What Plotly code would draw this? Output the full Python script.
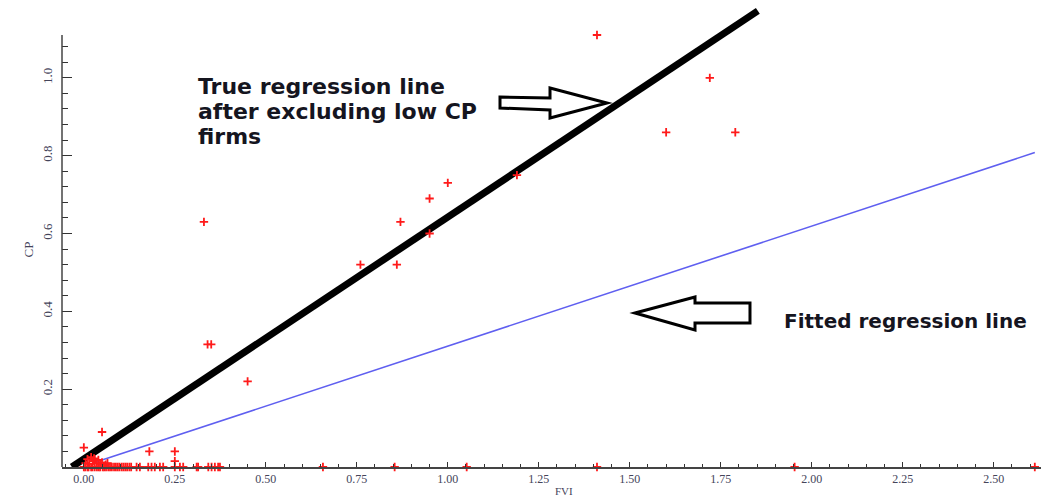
import plotly.graph_objects as go

# ---------------- data ----------------
fvi_pts = [1.41, 1.72, 1.60, 1.79, 1.19, 1.00, 0.95, 0.87, 0.95, 0.33, 0.76, 0.86,
           0.34, 0.35, 0.45, 0.05, 0.00, 0.18, 0.25, 0.25,
           0.005, 0.01, 0.015, 0.02, 0.025, 0.03, 0.035, 0.04, 0.045, 0.05, 0.06, 0.065, 0.028]
cp_pts = [1.11, 1.00, 0.86, 0.86, 0.75, 0.73, 0.69, 0.63, 0.60, 0.63, 0.52, 0.52,
          0.315, 0.315, 0.22, 0.09, 0.05, 0.04, 0.04, 0.015,
          0.010, 0.020, 0.008, 0.025, 0.015, 0.020, 0.010, 0.018, 0.008, 0.012, 0.006, 0.010, 0.022]

fvi_zero = [0.0, 0.004, 0.01, 0.013, 0.02, 0.024, 0.03, 0.036, 0.041, 0.045, 0.052, 0.056,
            0.061, 0.067, 0.072, 0.077, 0.083, 0.088, 0.093, 0.098, 0.104, 0.109, 0.114,
            0.119, 0.125, 0.13, 0.145, 0.154, 0.177, 0.186, 0.195, 0.209, 0.218, 0.25,
            0.264, 0.273, 0.31, 0.314, 0.342, 0.351, 0.36, 0.369, 0.374, 0.657, 0.854,
            1.052, 1.41, 1.953, 2.613]
cp_zero = [0.0] * len(fvi_zero)

true_line_fvi = [-0.033, 1.852]
true_line_cp = [0.0, 1.172]
fitted_line_fvi = [0.025, 2.613]
fitted_line_cp = [0.010, 0.808]

x_major = [0, 0.25, 0.5, 0.75, 1.0, 1.25, 1.5, 1.75, 2.0, 2.25, 2.5]
x_labels = ["0.00", "0.25", "0.50", "0.75", "1.00", "1.25", "1.50", "1.75", "2.00", "2.25", "2.50"]
y_major = [0.2, 0.4, 0.6, 0.8, 1.0]
y_labels = ["0.2", "0.4", "0.6", "0.8", "1.0"]

true_label = ["True regression line", "after excluding low CP", "firms"]
fitted_label = "Fitted regression line"
x_title = "FVI"
y_title = "CP"

# ---------------- layout geometry ----------------
W, H = 1046, 499
ML, MR, MT, MB = 62, 5, 0, 32
XR = [-0.06, 2.63]
YR = [0.0, 1.2]


def px2d(px, py):
    x = XR[0] + (px - ML) / (W - ML - MR) * (XR[1] - XR[0])
    y = YR[0] + (H - MB - py) / (H - MT - MB) * (YR[1] - YR[0])
    return x, y


def px2paper(px, py):
    return (px - ML) / (W - ML - MR), (H - MB - py) / (H - MT - MB)


def path_from_px(pts):
    d = []
    for i, (px, py) in enumerate(pts):
        x, y = px2d(px, py)
        d.append(("M" if i == 0 else "L") + f"{x:.4f},{y:.4f}")
    return " ".join(d) + " Z"


fig = go.Figure()

fig.add_trace(go.Scatter(x=fitted_line_fvi, y=fitted_line_cp, mode="lines",
                         line=dict(color="rgb(95,95,240)", width=1.6), hoverinfo="skip"))
fig.add_trace(go.Scatter(x=true_line_fvi, y=true_line_cp, mode="lines",
                         line=dict(color="black", width=7), hoverinfo="skip"))
fig.add_trace(go.Scatter(x=fvi_zero + fvi_pts, y=cp_zero + cp_pts, mode="markers",
                         cliponaxis=False,
                         marker=dict(symbol="cross-thin", size=6,
                                     line=dict(color="#ff1a1a", width=1.8))))

tick_font = dict(family="Liberation Serif", size=13, color="#44445a")
xtick_font = dict(family="Liberation Serif", size=12, color="#44445a")

fig.update_xaxes(range=XR, showline=True, linecolor="#444", linewidth=1.5, automargin=False,
                 tickmode="array", tickvals=x_major, ticktext=x_labels,
                 ticks="inside", ticklen=5, tickcolor="#333", tickwidth=1,
                 minor=dict(tickvals=[round(-0.05 + 0.05 * i, 2) for i in range(54)],
                            ticks="inside", ticklen=3, tickcolor="#333"),
                 tickfont=xtick_font, showgrid=False, zeroline=False)

fig.update_yaxes(range=YR, showline=False, automargin=False,
                 tickmode="array", tickvals=y_major, ticktext=y_labels, tickangle=-90,
                 ticks="inside", ticklen=10, tickcolor="#333", tickwidth=1.2,
                 ticklabelstandoff=6,
                 minor=dict(tickvals=[round(0.04 * i, 2) for i in range(1, 28)],
                            ticks="inside", ticklen=6, tickcolor="#333"),
                 tickfont=tick_font, showgrid=False, zeroline=False)

shapes = [
    dict(type="line", xref="paper", x0=0, x1=0, yref="y", y0=0, y1=1.11,
         line=dict(color="#444", width=1.5)),
    dict(type="path", path=path_from_px([(500, 97), (550, 98), (550, 88), (607, 103),
                                         (550, 118), (550, 110), (500, 108)]),
         fillcolor="white", line=dict(color="black", width=3)),
    dict(type="path", path=path_from_px([(635, 313), (695, 297), (695, 303), (750, 303),
                                         (750, 323), (695, 323), (695, 330)]),
         fillcolor="white", line=dict(color="black", width=3)),
]

ann_font = dict(family="DejaVu Sans", size=22, color="#15151f")
annotations = []
for i, line in enumerate(true_label):
    x, y = px2d(196, 86 + 25 * i)
    annotations.append(dict(x=x, y=y, xref="x", yref="y", text=f"<b>{line}</b>",
                            showarrow=False, xanchor="left", yanchor="middle", font=ann_font))
x, y = px2d(782, 321)
annotations.append(dict(x=x, y=y, xref="x", yref="y", text=f"<b>{fitted_label}</b>",
                        showarrow=False, xanchor="left", yanchor="middle",
                        font=dict(family="DejaVu Sans", size=20, color="#15151f")))
x, y = px2paper(18, 250)
annotations.append(dict(x=x, y=y, xref="paper", yref="paper", text=y_title, textangle=-90,
                        showarrow=False, font=dict(family="Liberation Serif", size=13, color="#44445a")))
x, y = px2paper(553, 499)
annotations.append(dict(x=x, y=y, xref="paper", yref="paper", text=x_title,
                        xanchor="left", yanchor="bottom",
                        showarrow=False, font=dict(family="Liberation Serif", size=11, color="#44445a")))

fig.update_layout(width=W, height=H, margin=dict(l=ML, r=MR, t=MT, b=MB),
                  plot_bgcolor="white", paper_bgcolor="white", showlegend=False,
                  shapes=shapes, annotations=annotations)

fig.write_html("out.html", config={"displayModeBar": False},
               post_script="document.body.style.margin='0';document.body.style.overflow='hidden';")
